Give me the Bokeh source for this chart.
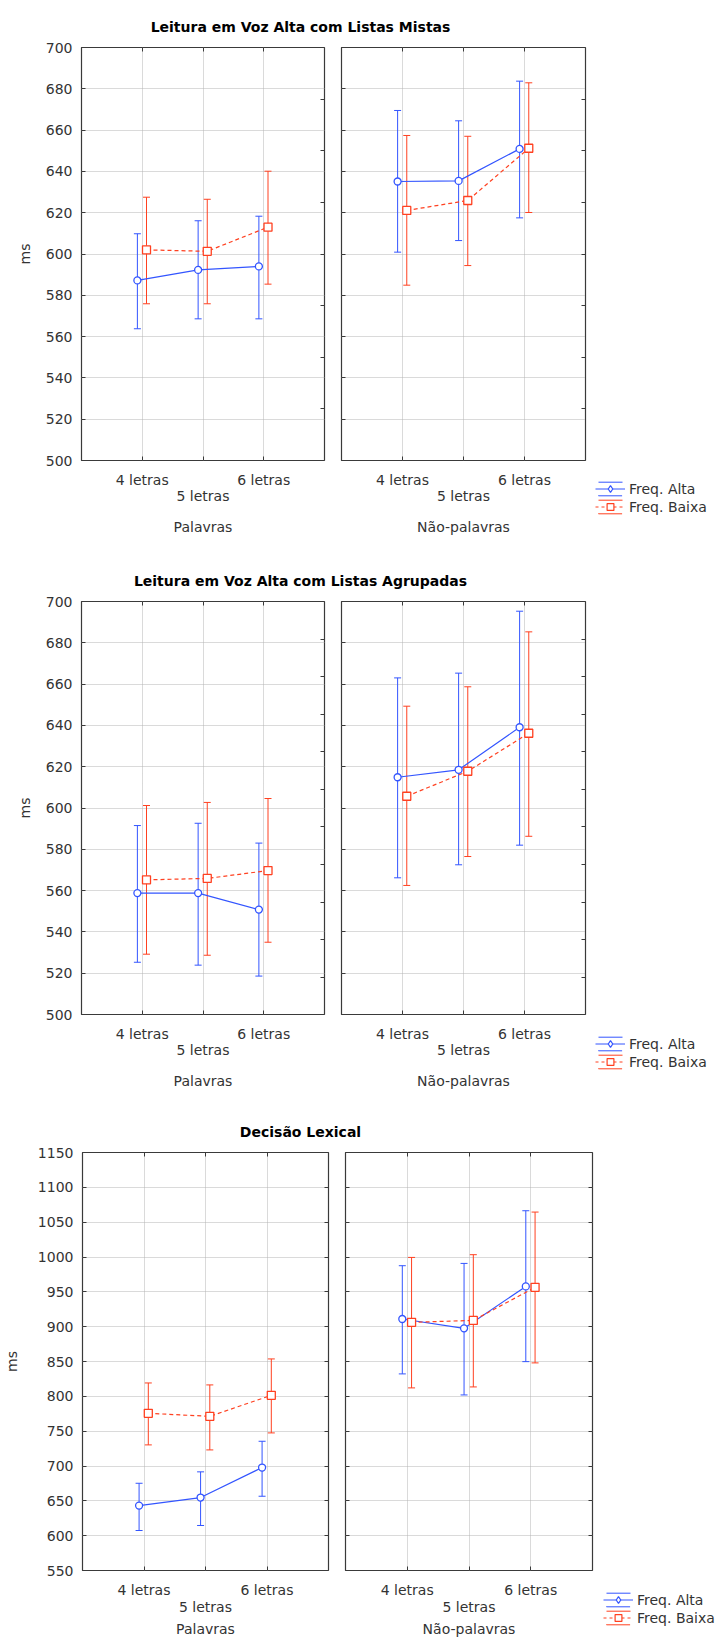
from bokeh.plotting import figure
from bokeh.models import (Range1d, LinearAxis, FixedTicker, Legend, LegendItem,
                          Label, ColumnDataSource, CustomJSTickFormatter, Spacer)
from bokeh.layouts import column, row
from bokeh.transform import dodge
from bokeh.embed import file_html
from bokeh.resources import INLINE

# ---------------- data ----------------
categories = ["4 letras", "5 letras", "6 letras"]
series_names = ["Freq. Alta", "Freq. Baixa"]
panel_names = ["Palavras", "Não-palavras"]
titles = ["Leitura em Voz Alta com Listas Mistas",
          "Leitura em Voz Alta com Listas Agrupadas",
          "Decisão Lexical"]
y_label = "ms"

# Chart 1: Leitura em Voz Alta com Listas Mistas
mistas_pal_alta_mean = [587.2, 592.3, 594.0]
mistas_pal_alta_low = [563.8, 568.6, 568.6]
mistas_pal_alta_high = [609.8, 616.1, 618.3]
mistas_pal_baixa_mean = [602.0, 601.3, 613.0]
mistas_pal_baixa_low = [575.9, 575.9, 585.4]
mistas_pal_baixa_high = [627.5, 626.5, 640.1]
mistas_nao_alta_mean = [635.1, 635.4, 650.9]
mistas_nao_alta_low = [600.9, 606.5, 617.5]
mistas_nao_alta_high = [669.5, 664.5, 683.7]
mistas_nao_baixa_mean = [621.1, 625.9, 651.2]
mistas_nao_baixa_low = [584.9, 594.4, 620.1]
mistas_nao_baixa_high = [657.4, 657.0, 682.9]

# Chart 2: Leitura em Voz Alta com Listas Agrupadas
agrup_pal_alta_mean = [558.8, 558.8, 550.8]
agrup_pal_alta_low = [525.3, 523.9, 518.6]
agrup_pal_alta_high = [591.5, 592.6, 583.0]
agrup_pal_baixa_mean = [565.2, 565.9, 569.7]
agrup_pal_baixa_low = [529.2, 528.7, 535.0]
agrup_pal_baixa_high = [601.2, 602.7, 604.6]
agrup_nao_alta_mean = [614.9, 618.5, 639.1]
agrup_nao_alta_low = [566.2, 572.5, 582.0]
agrup_nao_alta_high = [663.0, 665.3, 695.3]
agrup_nao_baixa_mean = [605.7, 617.8, 636.2]
agrup_nao_baixa_low = [562.5, 576.5, 586.3]
agrup_nao_baixa_high = [649.3, 658.7, 685.3]

# Chart 3: Decisão Lexical
lex_pal_alta_mean = [643.2, 654.7, 697.8]
lex_pal_alta_low = [607.4, 614.6, 656.6]
lex_pal_alta_high = [675.2, 691.6, 735.5]
lex_pal_baixa_mean = [775.6, 771.3, 801.5]
lex_pal_baixa_low = [730.3, 723.1, 747.5]
lex_pal_baixa_high = [819.2, 816.4, 853.7]
lex_nao_alta_mean = [911.0, 897.6, 957.8]
lex_nao_alta_low = [832.2, 802.0, 849.8]
lex_nao_alta_high = [987.5, 990.8, 1066.4]
lex_nao_baixa_mean = [906.2, 909.0, 956.4]
lex_nao_baixa_low = [812.1, 813.5, 848.0]
lex_nao_baixa_high = [999.4, 1003.3, 1064.5]

# axis ticks
ticks_mistas = [500, 520, 540, 560, 580, 600, 620, 640, 660, 680, 700]
ticks_agrup = [500, 520, 540, 560, 580, 600, 620, 640, 660, 680, 700]
ticks_lex = [550, 600, 650, 700, 750, 800, 850, 900, 950, 1000, 1050, 1100, 1150]
right_ticks_mistas = [525, 550, 575, 600, 625, 650, 675]
right_ticks_agrup = [518.0, 536.2, 554.4, 572.6, 590.8, 609.0, 627.2, 645.4, 663.6, 681.8]
right_ticks_lex = [600, 650, 700, 750, 800, 850, 900, 950, 1000, 1050, 1100]

charts = [
    dict(title=titles[0], ticks=ticks_mistas, rticks=right_ticks_mistas,
         panels=[[(mistas_pal_alta_mean, mistas_pal_alta_low, mistas_pal_alta_high),
                  (mistas_pal_baixa_mean, mistas_pal_baixa_low, mistas_pal_baixa_high)],
                 [(mistas_nao_alta_mean, mistas_nao_alta_low, mistas_nao_alta_high),
                  (mistas_nao_baixa_mean, mistas_nao_baixa_low, mistas_nao_baixa_high)]]),
    dict(title=titles[1], ticks=ticks_agrup, rticks=right_ticks_agrup,
         panels=[[(agrup_pal_alta_mean, agrup_pal_alta_low, agrup_pal_alta_high),
                  (agrup_pal_baixa_mean, agrup_pal_baixa_low, agrup_pal_baixa_high)],
                 [(agrup_nao_alta_mean, agrup_nao_alta_low, agrup_nao_alta_high),
                  (agrup_nao_baixa_mean, agrup_nao_baixa_low, agrup_nao_baixa_high)]]),
    dict(title=titles[2], ticks=ticks_lex, rticks=right_ticks_lex,
         panels=[[(lex_pal_alta_mean, lex_pal_alta_low, lex_pal_alta_high),
                  (lex_pal_baixa_mean, lex_pal_baixa_low, lex_pal_baixa_high)],
                 [(lex_nao_alta_mean, lex_nao_alta_low, lex_nao_alta_high),
                  (lex_nao_baixa_mean, lex_nao_baixa_low, lex_nao_baixa_high)]]),
]

# ---------------- styles / geometry ----------------
FONT = "DejaVu Sans"
BLUE = "#3355ff"
RED = "#ff4020"
FRAME = "#3a3a3a"
GRID = "#b4b4b4"
TXT = "#333333"
colors = [BLUE, RED]
dashes = ["solid", "4 3"]
markers = ["circle", "square"]
msizes = [7, 8]
offsets = [-0.08, 0.07]
legend_markers = ["diamond", "square"]
NAN = float("nan")

geom = [
    dict(title_h=36, title_base=9.3, row_h=509, mbt=11, fh=413,
         left=(81, 243, 8), right=(9, 244, 5), leg_w=136, leg_left=5, leg_top=444,
         xs1=11, xs2=-9, xls=12, yls=9, yals=10),
    dict(title_h=45, title_base=10, row_h=510, mbt=11, fh=413,
         left=(81, 243, 8), right=(9, 244, 5), leg_w=136, leg_left=5, leg_top=445,
         xs1=11, xs2=-9, xls=12, yls=9, yals=10),
    dict(title_h=41, title_base=10, row_h=506, mbt=11, fh=418,
         left=(82, 246, 8), right=(9, 247, 6), leg_w=128, leg_left=5, leg_top=450,
         xs1=11, xs2=-8, xls=3, yls=9, yals=15),
]

blank = CustomJSTickFormatter(code="return ''")
xidx = list(range(len(categories)))


def tick_axis(ticks):
    return LinearAxis(ticker=FixedTicker(ticks=ticks), formatter=blank,
                      major_tick_in=4, major_tick_out=0,
                      major_tick_line_color=FRAME, minor_tick_line_color=None,
                      axis_line_color=None, major_label_standoff=0,
                      major_label_text_font_size="1px")


def make_panel(series, ticks, rticks, xlabel, is_left, g, side):
    mbl, fw, mbr = side
    fh = g["fh"]
    mbb = g["row_h"] - g["mbt"] - fh
    p = figure(width=mbl + fw + mbr, height=g["row_h"],
               x_range=Range1d(-1, 3), y_range=Range1d(ticks[0], ticks[-1]),
               output_backend="svg", toolbar_location=None,
               x_axis_location=None, y_axis_location=None,
               min_border_left=mbl, min_border_right=mbr,
               min_border_top=g["mbt"], min_border_bottom=mbb)
    p.outline_line_color = FRAME
    p.outline_line_width = 1.2
    p.background_fill_color = "white"
    p.border_fill_color = "white"

    # the figure's own grids, driven by fixed tickers
    p.xgrid.ticker = FixedTicker(ticks=xidx)
    p.ygrid.ticker = FixedTicker(ticks=ticks)
    p.grid.grid_line_color = GRID
    p.grid.grid_line_dash = "1 1"
    p.grid.minor_grid_line_color = None

    if is_left:
        ya = LinearAxis(ticker=FixedTicker(ticks=ticks),
                        major_tick_in=4, major_tick_out=0,
                        major_tick_line_color=FRAME, minor_tick_line_color=None,
                        axis_line_color=None,
                        major_label_standoff=g["yls"],
                        major_label_text_font=FONT,
                        major_label_text_font_size="14px",
                        major_label_text_color=TXT,
                        axis_label=y_label,
                        axis_label_standoff=g["yals"],
                        axis_label_text_font=FONT,
                        axis_label_text_font_size="14px",
                        axis_label_text_font_style="normal",
                        axis_label_text_color=TXT)
        p.add_layout(ya, "left")
    else:
        p.add_layout(tick_axis(ticks), "left")
    p.add_layout(tick_axis(rticks), "right")
    p.add_layout(tick_axis(xidx), "above")

    xa1 = LinearAxis(ticker=FixedTicker(ticks=xidx),
                     major_label_overrides={0: categories[0], 1: "", 2: categories[2]},
                     major_tick_in=4, major_tick_out=0,
                     major_tick_line_color=FRAME, minor_tick_line_color=None,
                     axis_line_color=None, major_label_standoff=g["xs1"],
                     major_label_text_font=FONT, major_label_text_font_size="14px",
                     major_label_text_color=TXT)
    p.add_layout(xa1, "below")
    xa2 = LinearAxis(ticker=FixedTicker(ticks=[1]),
                     major_label_overrides={1: categories[1]},
                     major_tick_line_color=None, minor_tick_line_color=None,
                     axis_line_color=None, major_label_standoff=g["xs2"],
                     major_label_text_font=FONT, major_label_text_font_size="14px",
                     major_label_text_color=TXT,
                     axis_label=xlabel, axis_label_standoff=g["xls"],
                     axis_label_text_font=FONT, axis_label_text_font_size="14px",
                     axis_label_text_font_style="normal", axis_label_text_color=TXT)
    p.add_layout(xa2, "below")

    sources = []
    for k, (mean, low, high) in enumerate(series):
        src = ColumnDataSource(dict(x=xidx, mean=mean, low=low, high=high))
        sources.append(src)
        xd = dodge("x", offsets[k])
        p.segment(x0=xd, y0="low", x1=xd, y1="high", source=src,
                  line_color=colors[k], line_width=1)
        p.scatter(x=xd, y="high", source=src, marker="dash", size=7,
                  line_color=colors[k], line_width=1)
        p.scatter(x=xd, y="low", source=src, marker="dash", size=7,
                  line_color=colors[k], line_width=1)
    for k, src in enumerate(sources):
        p.line(x=dodge("x", offsets[k]), y="mean", source=src,
               line_color=colors[k], line_width=1.2, line_dash=dashes[k])
    for k, src in enumerate(sources):
        p.scatter(x=dodge("x", offsets[k]), y="mean", source=src,
                  marker=markers[k], size=msizes[k], fill_color="white",
                  line_color=colors[k], line_width=1.3)
    return p


def make_legend_block(g):
    lh = 40
    lf = figure(width=g["leg_w"], height=lh, x_range=Range1d(0, 1),
                y_range=Range1d(0, 1), output_backend="svg", toolbar_location=None,
                x_axis_location=None, y_axis_location=None, min_border=0,
                min_border_left=g["leg_left"])
    lf.outline_line_color = None
    lf.grid.visible = False
    items = []
    for k, name in enumerate(series_names):
        empty = ColumnDataSource(dict(x=[NAN], y=[NAN]))
        r1 = lf.rect(x="x", y="y", width=1, height=1, source=empty,
                     fill_color=None, line_color=colors[k], line_width=1,
                     line_dash="24 14")
        r2 = lf.line(x="x", y="y", source=empty, line_color=colors[k],
                     line_width=1, line_dash=("solid" if k == 0 else "3 3"))
        r3 = lf.scatter(x="x", y="y", source=empty, marker=legend_markers[k],
                        size=7, fill_color="white", line_color=colors[k],
                        line_width=1.2)
        items.append(LegendItem(label=name, renderers=[r1, r2, r3]))
    leg = Legend(items=items, location="top_left", glyph_width=30,
                 glyph_height=17, label_height=17, label_standoff=4, spacing=1,
                 padding=0, margin=0, border_line_color=None,
                 background_fill_alpha=0, label_text_font=FONT,
                 label_text_font_size="14px", label_text_color=TXT)
    lf.add_layout(leg)
    return column(Spacer(width=g["leg_w"], height=g["leg_top"]), lf)


def make_title_fig(text, g):
    tf = figure(width=726, height=g["title_h"], x_range=Range1d(0, 1),
                y_range=Range1d(0, 1), output_backend="svg", toolbar_location=None,
                x_axis_location=None, y_axis_location=None, min_border=0)
    tf.outline_line_color = None
    tf.grid.visible = False
    tf.add_layout(Label(x=300, y=g["title_base"], x_units="screen", y_units="screen",
                        text=text, text_font=FONT, text_font_size="14px",
                        text_font_style="bold", text_color="black",
                        text_align="center", text_baseline="alphabetic"))
    return tf


blocks = []
for c, g in zip(charts, geom):
    left = make_panel(c["panels"][0], c["ticks"], c["rticks"], panel_names[0], True, g, g["left"])
    right = make_panel(c["panels"][1], c["ticks"], c["rticks"], panel_names[1], False, g, g["right"])
    blocks.append(make_title_fig(c["title"], g))
    blocks.append(row(left, right, make_legend_block(g)))

page = column(*blocks)
open("out.html", "w").write(file_html(page, INLINE))
